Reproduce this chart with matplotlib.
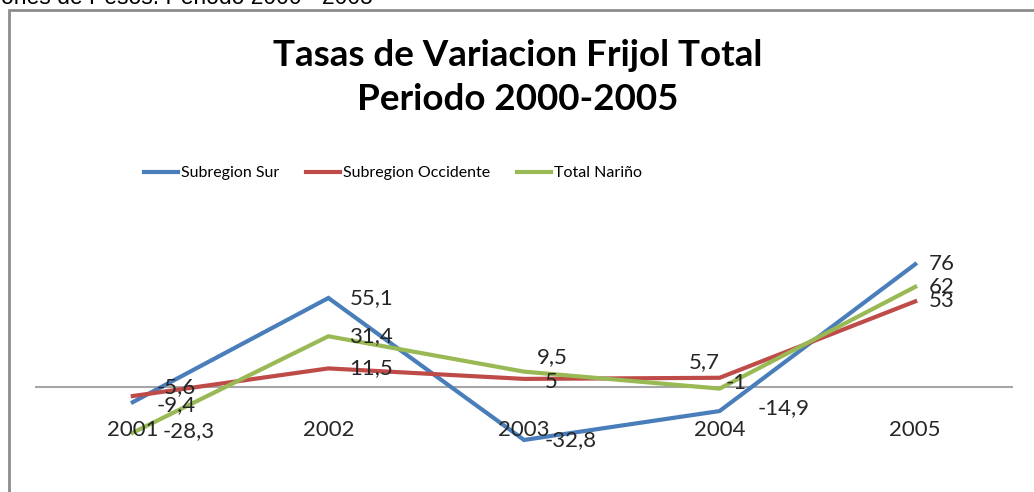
import matplotlib.pyplot as plt
from matplotlib.patches import Rectangle

# Data
years = ['2001', '2002', '2003', '2004', '2005']
sur = [-9.4, 55.1, -32.8, -14.9, 76]
occidente = [-5.6, 11.5, 5, 5.7, 53]
narino = [-28.3, 31.4, 9.5, -1, 62]
series_names = ['Subregion Sur', 'Subregion Occidente', 'Total Nariño']
colors = ['#4a7ebb', '#be4b48', '#98b954']

# label offsets in pixels (dx, dy) per series, per point
offsets = [
    [(24, -3), (21, 0), (21, 0), (38, 3), (14, 0)],
    [(24, 9), (21, 0), (21, -3), (-31, 16), (14, 0)],
    [(30, 2), (21, 0), (13, 15), (6, 6), (14, 0)],
]

def fmt(v):
    s = ('%.1f' % v).rstrip('0').rstrip('.')
    return s.replace('.', ',')

W, H = 1034, 492
fig = plt.figure(figsize=(W / 100, H / 100), dpi=100)
fig.patch.set_facecolor('white')

# outer chart frame (cropped on right and bottom)
fig.patches.append(Rectangle((9 / W, -0.1), 1.2, 1 - 10 / H + 0.1, transform=fig.transFigure,
                             fill=False, edgecolor='#8c8c8c', linewidth=2))

# cut text above the frame
fig.text(373 / W, 1 - 4 / H, 'Millones de Pesos. Periodo 2000 - 2005', ha='right', va='baseline',
         fontsize=16.5, family='Liberation Sans', color='black')

ax = fig.add_axes([35 / W, 1 - 470 / H, (1013 - 35) / W, 240 / H])
ax.set_xlim(0.5, 5.5)
ax.set_ylim(-51.4, 97.2)
ax.axis('off')
ax.axhline(0, color='#a6a6a6', lw=1.5, zorder=1)

x = list(range(1, len(years) + 1))
all_series = [sur, occidente, narino]
for vals, name, c, offs in zip(all_series, series_names, colors, offsets):
    ax.plot(x, vals, color=c, lw=3, label=name, zorder=3, solid_joinstyle='miter')
    for xi, v, (dx, dy) in zip(x, vals, offs):
        ax.annotate(fmt(v), (xi, v), xytext=(dx, dy), textcoords='offset pixels',
                    ha='left', va='center', fontsize=16, family='Lato', color='#262626', zorder=4)

for xi, lab in zip(x, years):
    ax.text(xi, -26.6, lab, ha='center', va='center', fontsize=16, family='Lato', color='#262626')

fig.text(518 / W, 1 - 56 / H, 'Tasas de Variacion Frijol Total', ha='center', va='center',
         fontsize=26.5, fontweight='bold', family='Lato')
fig.text(518 / W, 1 - 99 / H, 'Periodo 2000-2005', ha='center', va='center',
         fontsize=26.5, fontweight='bold', family='Lato')

leg = fig.legend(loc='center', bbox_to_anchor=(393 / W, 1 - 173 / H), ncol=3, frameon=False,
                 prop={'family': 'Lato', 'size': 11.5}, handlelength=2.1, handletextpad=0.2,
                 columnspacing=1.7)

fig.savefig('out.png', dpi=100, facecolor='white')
